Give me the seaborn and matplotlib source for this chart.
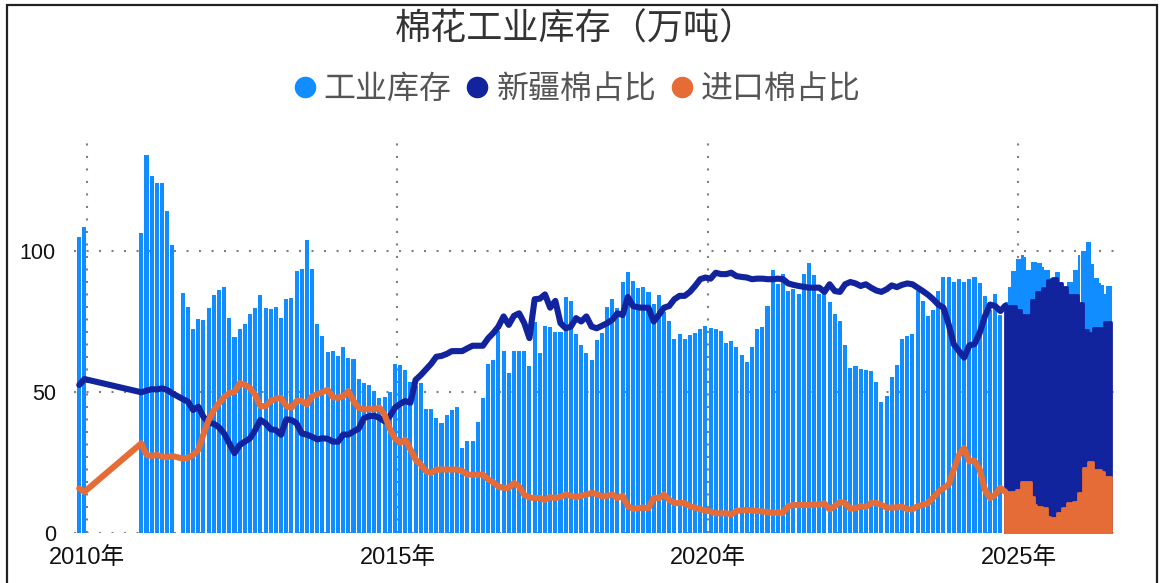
import numpy as np
import pandas as pd
import matplotlib
matplotlib.use("Agg")
import matplotlib.pyplot as plt
import seaborn as sns
from matplotlib.lines import Line2D
from matplotlib.patches import Rectangle

# ---------------- data ----------------
# monthly periods (June 2011 and Jan-Oct 2010 missing)
months = (["2009-11", "2009-12", "2010-11", "2010-12"]
          + [f"2011-{m:02d}" for m in [1, 2, 3, 4, 5, 7, 8, 9, 10, 11, 12]]
          + [f"{y}-{m:02d}" for y in range(2012, 2024) for m in range(1, 13)]
          + [f"2024-{m:02d}" for m in range(1, 10)])

stock = [105.0, 108.5,
         106.4, 134.0,
         126.6, 124.1, 124.1, 114.2, 102.1, 85.1, 80.1, 72.3, 75.9, 75.5, 79.8,
         84.4, 86.2, 87.2, 76.2, 69.5, 72.3, 74.1, 77.7, 79.8, 84.4, 79.8, 79.4,
         80.1, 76.2, 83.0, 83.3, 92.9, 93.6, 103.9, 93.6, 74.1, 69.9, 64.2, 64.5,
         62.8, 66.0, 62.1, 61.7, 54.6, 53.2, 52.5, 50.4, 47.9, 48.2, 50.0, 59.9,
         59.6, 57.8, 53.5, 52.1, 53.2, 44.0, 44.0, 40.8, 39.0, 41.8, 43.6, 44.7,
         30.1, 32.6, 32.6, 39.4, 47.9, 59.9, 61.3, 71.6, 64.5, 56.7, 64.5, 64.5,
         64.5, 59.2, 74.8, 63.8, 73.4, 73.0, 71.3, 71.3, 83.7, 82.3, 70.6, 66.7,
         63.8, 61.3, 68.4, 70.9, 80.1, 83.0, 79.8, 89.0, 92.6, 89.4, 86.9, 87.2,
         85.5, 81.2, 84.4, 78.4, 75.2, 68.8, 70.6, 68.8, 70.2, 70.9, 72.3, 73.4,
         72.7, 72.3, 71.6, 67.4, 68.1, 66.0, 63.1, 60.6, 66.0, 72.3, 73.0, 80.5,
         93.3, 88.3, 91.8, 85.8, 86.5, 84.8, 91.8, 95.7, 91.5, 84.8, 85.1, 81.9,
         77.7, 75.2, 66.7, 58.5, 59.2, 58.2, 57.8, 57.4, 53.5, 46.5, 48.6, 55.3,
         59.6, 68.8, 69.9, 70.6, 85.8, 82.3, 77.0, 79.1, 85.8, 90.8, 90.8, 89.0,
         90.1, 89.0, 90.1, 90.8, 88.7, 84.0, 79.1, 84.8, 77.3]

xinjiang = [52.5, 54.6,
            49.9, 50.5,
            51.0, 50.9, 51.3, 50.7, 49.5, 47.5, 46.6, 43.6, 44.8, 41.2, 39.1,
            38.7, 37.5, 35.3, 31.8, 28.3, 31.2, 32.4, 33.6, 36.5, 40.1, 38.9, 36.8,
            36.5, 34.8, 40.3, 40.1, 38.9, 35.3, 34.9, 34.1, 33.2, 33.6, 33.4, 32.4,
            32.4, 34.9, 34.9, 36.0, 37.0, 40.7, 41.4, 41.6, 40.8, 39.6, 41.4, 44.4,
            45.8, 46.8, 46.2, 54.3, 56.0, 58.0, 60.0, 62.5, 62.8, 63.5, 64.5, 64.5,
            64.5, 65.5, 66.4, 66.4, 66.4, 69.0, 70.9, 73.2, 76.8, 73.8, 77.0, 77.9,
            74.4, 69.1, 82.9, 83.1, 84.6, 79.9, 82.3, 74.4, 72.6, 73.2, 76.2, 75.0,
            76.8, 73.2, 72.6, 73.5, 74.4, 75.6, 77.9, 77.3, 83.7, 80.5, 80.0, 79.9,
            79.9, 75.0, 77.3, 79.9, 80.5, 82.9, 84.1, 84.1, 85.5, 87.6, 90.0, 90.6,
            90.2, 92.3, 91.8, 91.8, 92.3, 91.1, 90.8, 90.6, 90.0, 90.2, 90.2, 90.0,
            90.0, 90.2, 90.0, 88.5, 88.0, 87.6, 87.3, 87.0, 87.0, 87.0, 85.5, 88.2,
            85.8, 85.5, 88.2, 89.0, 88.5, 87.6, 88.2, 87.0, 86.0, 85.5, 86.4, 87.8,
            87.2, 88.0, 88.5, 88.2, 87.0, 85.8, 84.5, 82.9, 81.0, 79.9, 74.0, 66.9,
            64.5, 62.2, 66.5, 67.0, 71.0, 76.8, 81.0, 80.5, 78.7]

imported = [15.8, 14.6,
            31.8, 27.7,
            27.3, 27.7, 27.1, 26.9, 27.3, 26.4, 26.6, 27.7, 29.5, 35.0, 40.0,
            43.5, 46.0, 48.2, 49.6, 50.0, 53.1, 52.6, 51.4, 49.0, 45.0, 45.0, 46.8,
            47.6, 47.9, 45.0, 44.4, 46.8, 46.8, 45.6, 48.5, 49.2, 50.0, 50.8, 48.2,
            47.9, 48.5, 50.3, 46.8, 44.4, 43.8, 44.0, 43.8, 44.5, 42.0, 37.0, 33.5,
            32.0, 33.1, 29.6, 26.0, 24.3, 21.9, 21.3, 22.5, 22.5, 22.5, 22.5, 22.5,
            22.0, 20.7, 20.7, 20.7, 20.7, 19.0, 18.0, 16.5, 16.0, 16.0, 17.7, 16.5,
            13.5, 12.6, 12.4, 12.4, 11.8, 12.7, 12.4, 12.8, 13.6, 13.2, 12.7, 13.2,
            13.6, 14.2, 13.8, 13.0, 13.2, 13.6, 12.4, 13.2, 9.5, 8.6, 8.8, 9.0,
            8.8, 12.4, 12.4, 13.6, 11.8, 10.6, 10.6, 10.6, 9.5, 9.0, 8.4, 8.0,
            7.6, 7.0, 7.0, 7.0, 6.6, 7.8, 8.0, 8.2, 8.0, 7.8, 7.6, 7.4,
            7.2, 7.2, 7.2, 9.5, 9.9, 9.9, 9.9, 9.9, 10.1, 10.1, 10.5, 8.4,
            9.5, 11.0, 10.6, 8.6, 8.8, 9.5, 9.2, 10.6, 10.6, 10.0, 9.0, 9.0,
            9.1, 9.3, 8.4, 8.4, 9.5, 10.0, 10.6, 12.5, 14.5, 16.0, 17.1, 22.5,
            27.7, 30.1, 25.4, 25.6, 22.5, 15.4, 12.4, 13.6, 16.0]

# half-monthly data from Oct 2024 on (drawn as dense areas)
dense_start = "2024-10-15"
stock_dense = [82.0, 87.3, 92.9, 92.9, 97.2, 97.2, 98.6, 98.0, 93.3, 93.3,
               96.1, 96.1, 95.6, 95.6, 94.4, 93.3, 93.3, 90.3, 90.3, 92.4,
               92.4, 89.1, 87.3, 87.3, 89.1, 89.1, 93.3, 93.3, 98.6, 100.0,
               100.0, 103.2, 103.2, 95.4, 90.5, 90.5, 88.8, 87.9, 84.8, 87.6, 87.6]
xinjiang_dense = [80.6, 80.6, 80.6, 80.6, 79.1, 79.1, 77.3, 77.3, 77.3, 77.3,
                  82.6, 82.6, 85.6, 85.6, 86.8, 86.8, 89.7, 89.7, 90.3, 90.3,
                  88.5, 88.5, 87.3, 87.3, 84.4, 84.4, 84.4, 84.4, 81.4, 81.4,
                  72.0, 72.0, 70.8, 70.8, 72.6, 72.6, 72.6, 72.6, 75.0, 75.0, 75.0]
imported_dense = [14.6, 14.6, 14.6, 14.6, 15.2, 15.2, 18.2, 18.2, 18.2, 18.2,
                  12.9, 9.9, 9.3, 9.3, 8.7, 8.7, 5.8, 5.2, 5.2, 5.2,
                  7.0, 7.0, 8.7, 8.7, 10.5, 10.5, 11.1, 11.1, 14.1, 14.1,
                  23.0, 23.0, 25.3, 25.3, 22.3, 22.3, 22.3, 21.7, 20.0, 20.0, 20.0]

year_ticks = [2010, 2015, 2020, 2025]
y_ticks = [0, 50, 100]
title = "棉花工业库存（万吨）"
series_names = ["工业库存", "新疆棉占比", "进口棉占比"]

# ---------------- styling ----------------
C_STOCK = "#118DFF"
C_XJ = "#12239E"
C_IMP = "#E66C37"

sns.set_theme(style="white")
plt.rcParams["font.family"] = ["Liberation Sans", "Noto Sans CJK SC", "DejaVu Sans"]

W, H = 1160, 583
fig = plt.figure(figsize=(W / 100, H / 100), dpi=100)
ax_l, ax_r, ax_b, ax_t = 74, 1115, 533, 136
ax = fig.add_axes([ax_l / W, 1 - ax_b / H, (ax_r - ax_l) / W, (ax_b - ax_t) / H])

# monthly decimal-year positions
per = pd.PeriodIndex(months, freq="M")
t = per.year + (per.month - 0.5) / 12.0
df = pd.DataFrame({"t": t, "stock": stock, "xj": xinjiang, "imp": imported})

dd = pd.date_range(dense_start, periods=len(stock_dense), freq="SMS")
td = np.asarray(dd.year + (dd.month - 1) / 12.0 + (dd.day - 1) / (dd.days_in_month * 12.0))
step = 1 / 24
td_ext = np.append(td, td[-1] + step)

# line data joins into the first dense point
df_line = pd.concat([df, pd.DataFrame({"t": [td[0]], "xj": [xinjiang_dense[0]],
                                       "imp": [imported_dense[0]]})], ignore_index=True)

# bars
ax.bar(df["t"], df["stock"], width=0.78 / 12, color=C_STOCK, linewidth=0, zorder=2)
ax.bar(td, stock_dense, width=step * 1.05, align="edge", color=C_STOCK, linewidth=0, zorder=2)

# lines
sns.lineplot(data=df_line, x="t", y="xj", ax=ax, color=C_XJ, linewidth=4.4,
             estimator=None, sort=False, zorder=3)
sns.lineplot(data=df_line, x="t", y="imp", ax=ax, color=C_IMP, linewidth=4.4,
             estimator=None, sort=False, zorder=4)
for ln in ax.lines:
    ln.set_solid_joinstyle("round")
    ln.set_solid_capstyle("round")

ax.fill_between(td_ext, 0, np.append(xinjiang_dense, xinjiang_dense[-1]), step="post",
                color=C_XJ, linewidth=2.0, edgecolor=C_XJ, zorder=3)
ax.fill_between(td_ext, 0, np.append(imported_dense, imported_dense[-1]), step="post",
                color=C_IMP, linewidth=2.0, edgecolor=C_IMP, zorder=4)

# axes
x0 = 2010 + (ax_l - 87) / 62.1
x1 = 2010 + (ax_r - 87) / 62.1
ax.set_xlim(x0, x1)
ax.set_ylim(0, (ax_b - ax_t) / 2.82)
ax.set_xticks(year_ticks)
ax.set_xticklabels([f"{y}年" for y in year_ticks])
ax.set_yticks(y_ticks)
ax.set_yticklabels([str(v) for v in y_ticks])
ax.set_xlabel("")
ax.set_ylabel("")
for s in ax.spines.values():
    s.set_visible(False)
ax.tick_params(axis="x", length=0, pad=10, labelsize=17, labelcolor="#111111")
ax.tick_params(axis="y", length=0, pad=13, labelsize=15.5, labelcolor="#111111")
ax.set_axisbelow(True)
ax.grid(True, axis="both", color="#808080", linestyle=(0, (1, 5)), linewidth=1.5)

# title
fig.text(0.496, 1 - 30 / H, title, ha="center", va="center", fontsize=26,
         color="#333333", family=["Noto Sans CJK SC", "DejaVu Sans"])

# legend
handles = [Line2D([], [], linestyle="none", marker="o", markersize=14.5,
                  markerfacecolor=c, markeredgecolor=c)
           for c in [C_STOCK, C_XJ, C_IMP]]
leg = fig.legend(handles, series_names, loc="center", bbox_to_anchor=(0.497, 1 - 89 / H),
                 ncol=3, frameon=False, handlelength=0.8, handletextpad=0.2,
                 columnspacing=0.4, prop={"family": ["Noto Sans CJK SC"], "size": 23})
for txt in leg.get_texts():
    txt.set_color("#555555")

# figure frame
fig.add_artist(Rectangle((7 / W, -0.05), (1157 - 7) / W, 1.05 - 5 / H,
                         transform=fig.transFigure, fill=False,
                         edgecolor="#222222", linewidth=1.6))

fig.savefig("out.png", dpi=100)
